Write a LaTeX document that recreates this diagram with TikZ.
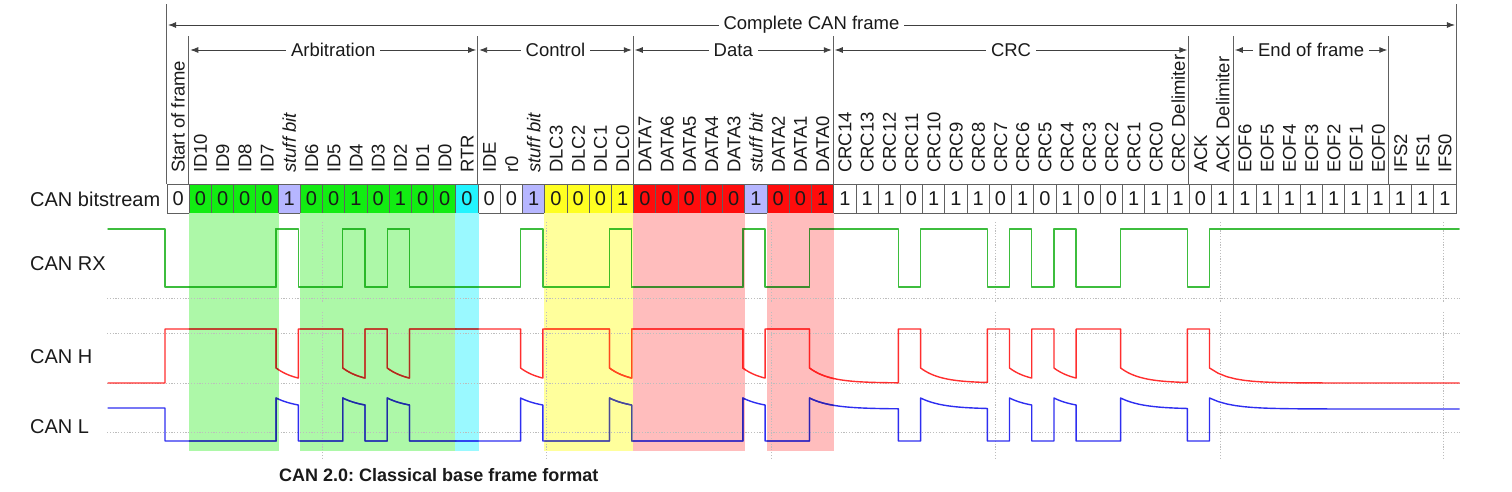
\documentclass[tikz,border=0pt]{standalone}
\usepackage{fontspec}
\setmainfont{Liberation Sans}
\usetikzlibrary{arrows.meta}
\frenchspacing
\definecolor{txt}{HTML}{1A1A1A}
\definecolor{lin}{HTML}{606060}
\definecolor{cgreen}{HTML}{12EC12}
\definecolor{cstuff}{HTML}{B6B6FF}
\definecolor{ccyan}{HTML}{22F4FF}
\definecolor{cyellow}{HTML}{FFFF22}
\definecolor{cred}{HTML}{FF0C0C}
\definecolor{sgreen}{HTML}{ADF8A8}
\definecolor{scyan}{HTML}{9AF9FF}
\definecolor{syellow}{HTML}{FFFF9C}
\definecolor{sred}{HTML}{FFBDBD}
\definecolor{trx}{HTML}{3DBD3D}
\definecolor{th}{HTML}{FF2E2E}
\definecolor{tl}{HTML}{2E2EF0}
% traces seen through the highlight colours (multiplied)
\definecolor{trxG}{HTML}{29B828}\definecolor{thG}{HTML}{AD2D1E}\definecolor{tlG}{HTML}{1F2D9E}
\definecolor{trxC}{HTML}{25B83D}\definecolor{thC}{HTML}{9A2D2E}\definecolor{tlC}{HTML}{1C2DF0}
\definecolor{trxY}{HTML}{3DBD25}\definecolor{thY}{HTML}{FF4A1C}\definecolor{tlY}{HTML}{4A4A93}
\definecolor{trxR}{HTML}{3D8C2D}\definecolor{thR}{HTML}{FF2222}\definecolor{tlR}{HTML}{2E22B2}
\definecolor{gridc}{HTML}{BDBDBD}
\def\canruns{0/5/0,5/1/1,6/2/0,8/1/1,9/1/0,10/1/1,11/5/0,16/1/1,17/3/0,20/1/1,21/5/0,26/1/1,27/2/0,29/4/1,33/1/0,34/3/1,37/1/0,38/1/1,39/1/0,40/1/1,41/2/0,43/3/1,46/1/0,47/11.23/1}
\newcommand\drawcantraces[3]{%
  \draw[trace, #1] (108,229) -- (165,229) \foreach \s/\n/\b in \canruns
    { -- ({165+\s*22.224},{287-58*\b}) -- ({165+(\s+\n)*22.224},{287-58*\b}) };
  \draw[trace, #2] (108,383) -- (165,383) \foreach \s/\n/\b in \canruns
    { -- plot[domain=0:\n*22.224, samples=30] ({165+\s*22.224+\x},{\b*(383-15*exp(-\x/20))+(1-\b)*329}) };
  \draw[trace, #3] (108,408) -- (165,408) \foreach \s/\n/\b in \canruns
    { -- plot[domain=0:\n*22.224, samples=30] ({165+\s*22.224+\x},{\b*(409-11*exp(-\x/22))+(1-\b)*441}) };
}
\begin{document}
\begin{tikzpicture}[x=1pt,y=-1pt,
  cell/.style={draw=lin, line width=0.9pt, minimum width=22.224pt, minimum height=29pt, inner sep=0pt, text=txt, font=\fontsize{20}{22}\selectfont},
  vlab/.style={rotate=90, anchor=base west, inner sep=0pt, text=txt, font=\fontsize{18.5}{20}\selectfont},
  llab/.style={anchor=base west, inner sep=0pt, text=txt, font=\fontsize{20}{22}\selectfont},
  alab/.style={fill=white, inner xsep=5pt, inner ysep=1pt, text=txt, font=\fontsize{18.5}{20}\selectfont},
  vl/.style={draw=lin, line width=1.1pt},
  arr/.style={draw=black!75, line width=0.9pt, {Latex[length=8pt,width=6pt]}-{Latex[length=8pt,width=6pt]}, shorten <=1.5pt, shorten >=1.5pt},
  gridl/.style={draw=gridc, line width=0.8pt, dash pattern=on 1.2pt off 1.6pt},
  trace/.style={line width=1.4pt, line join=round, line cap=round}
]
\useasboundingbox (0,0) rectangle (1512,492);

% ---- bitstream cells
\foreach \i/\b/\c in {0/0/white,1/0/cgreen,2/0/cgreen,3/0/cgreen,4/0/cgreen,5/1/cstuff,6/0/cgreen,7/0/cgreen,8/1/cgreen,9/0/cgreen,10/1/cgreen,11/0/cgreen,12/0/cgreen,13/0/ccyan,14/0/white,15/0/white,16/1/cstuff,17/0/cyellow,18/0/cyellow,19/0/cyellow,20/1/cyellow,21/0/cred,22/0/cred,23/0/cred,24/0/cred,25/0/cred,26/1/cstuff,27/0/cred,28/0/cred,29/1/cred,30/1/white,31/1/white,32/1/white,33/0/white,34/1/white,35/1/white,36/1/white,37/0/white,38/1/white,39/0/white,40/1/white,41/0/white,42/0/white,43/1/white,44/1/white,45/1/white,46/0/white,47/1/white,48/1/white,49/1/white,50/1/white,51/1/white,52/1/white,53/1/white,54/1/white,55/1/white,56/1/white,57/1/white}
  \node[cell, fill=\c] (c\i) at ({167+(\i+0.5)*22.224},198.5) {\b};

% ---- vertical bit labels
\foreach \i/\t in {0/Start of frame,1/ID10,2/ID9,3/ID8,4/ID7,5/\textit{stuff bit},6/ID6,7/ID5,8/ID4,9/ID3,10/ID2,11/ID1,12/ID0,13/RTR,14/IDE,15/r0,16/\textit{stuff bit},17/DLC3,18/DLC2,19/DLC1,20/DLC0,21/DATA7,22/DATA6,23/DATA5,24/DATA4,25/DATA3,26/\textit{stuff bit},27/DATA2,28/DATA1,29/DATA0,30/CRC14,31/CRC13,32/CRC12,33/CRC11,34/CRC10,35/CRC9,36/CRC8,37/CRC7,38/CRC6,39/CRC5,40/CRC4,41/CRC3,42/CRC2,43/CRC1,44/CRC0,45/CRC Delimiter,46/ACK,47/ACK Delimiter,48/EOF6,49/EOF5,50/EOF4,51/EOF3,52/EOF2,53/EOF1,54/EOF0,55/IFS2,56/IFS1,57/IFS0}
  \node[vlab] (l\i) at ({167+(\i+0.5)*22.224+6.6},173) {\t};

% ---- frame and section dividers
\draw[vl] (c0.north west) -- ++(0,-180);
\draw[vl] (c57.north east) -- ++(0,-180);
\foreach \k in {1,14,21,30,46,48,55}
  \draw[vl] (c\k.north west) -- ++(0,-148);

% ---- arrows
\coordinate (fL) at (c0.north west |- 0,25);
\coordinate (fR) at (c57.north east |- 0,25);
\draw[arr] (fL) -- node[alab] (tf) {Complete CAN frame} (fR);
\coordinate (s1) at (c1.north west |- 0,50);
\coordinate (s2) at (c14.north west |- 0,50);
\coordinate (s3) at (c21.north west |- 0,50);
\coordinate (s4) at (c30.north west |- 0,50);
\coordinate (s5) at (c46.north west |- 0,50);
\coordinate (s6) at (c48.north west |- 0,50);
\coordinate (s7) at (c55.north west |- 0,50);
\draw[arr] (s1) -- node[alab] (ta) {Arbitration} (s2);
\draw[arr] (s2) -- node[alab] (tc) {Control} (s3);
\draw[arr] (s3) -- node[alab] (td) {Data} (s4);
\draw[arr] (s4) -- node[alab] (tr) {CRC} (s5);
\draw[arr] (s6) -- node[alab] (te) {End of frame} (s7);

% ---- left labels
\node[llab] (lb) at (30,206) {CAN bitstream};
\node[llab] (lrx) at (30,270) {CAN RX};
\node[llab] (lh) at (30,363) {CAN H};
\node[llab] (ll) at (30,433) {CAN L};

% ---- highlighted regions
\coordinate (bot) at (0,451);
\fill[sgreen] (c1.south west) rectangle (c4.south east |- bot);
\fill[sgreen] (c6.south west) rectangle (c12.south east |- bot);
\fill[scyan] (c13.south west) rectangle (c13.south east |- bot);
\fill[syellow] (c17.south west) rectangle (c20.south east |- bot);
\fill[sred] (c21.south west) rectangle (c25.south east |- bot);
\fill[sred] (c27.south west) rectangle (c29.south east |- bot);

% ---- scope grid
\foreach \y in {298,333,383,432}
  \draw[gridl] (107,\y) -- (1460,\y);
\foreach \x in {322,546,771,995,1220,1443} {
  \draw[gridl] (\x,222) -- (\x,302);
  \draw[gridl] (\x,312) -- (\x,458);
}

% ---- traces
\drawcantraces{trx}{th}{tl}
\begin{scope}
  \clip (c1.south west) rectangle (c4.south east |- bot) (c6.south west) rectangle (c12.south east |- bot);
  \drawcantraces{trxG}{thG}{tlG}
\end{scope}
\begin{scope}
  \clip (c13.south west) rectangle (c13.south east |- bot);
  \drawcantraces{trxC}{thC}{tlC}
\end{scope}
\begin{scope}
  \clip (c17.south west) rectangle (c20.south east |- bot);
  \drawcantraces{trxY}{thY}{tlY}
\end{scope}
\begin{scope}
  \clip (c21.south west) rectangle (c25.south east |- bot) (c27.south west) rectangle (c29.south east |- bot);
  \drawcantraces{trxR}{thR}{tlR}
\end{scope}

% ---- caption
\node[anchor=base west, inner sep=0pt, text=txt, font=\fontsize{18}{20}\selectfont\bfseries] (cap) at (279,481) {CAN 2.0: Classical base frame format};
\end{tikzpicture}
\end{document}
